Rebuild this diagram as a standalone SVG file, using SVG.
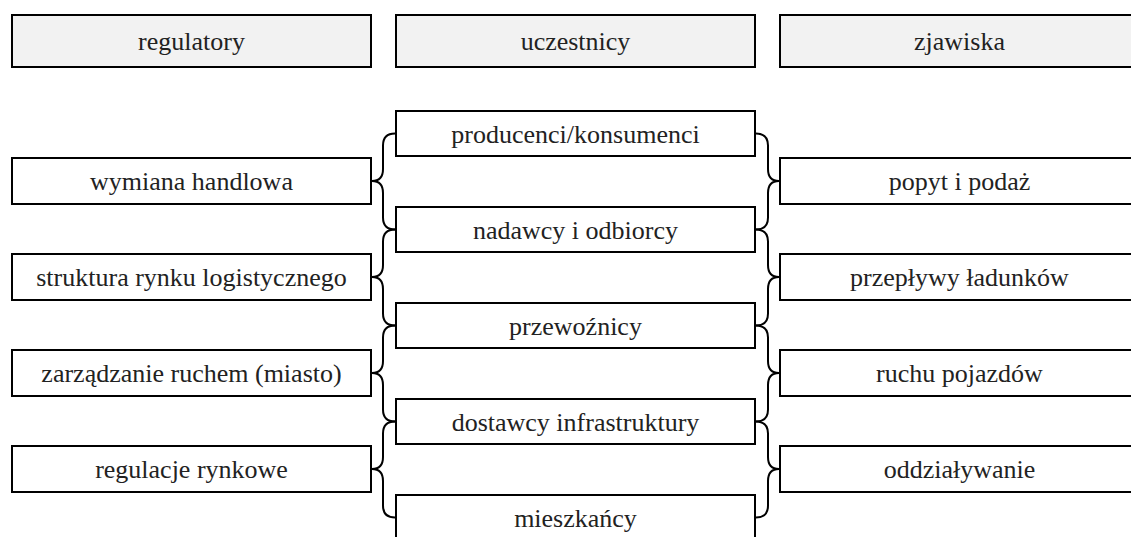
<svg xmlns="http://www.w3.org/2000/svg" width="1131" height="537" viewBox="0 0 1131 537">
<style>
.box{fill:#ffffff;stroke:#000;stroke-width:2}
.hdr{fill:#f2f2f2;stroke:#000;stroke-width:2}
.t{font-family:'Times New Roman','Liberation Serif','DejaVu Serif','Noto Serif',Times,serif;font-size:26px;fill:#222;text-anchor:middle}
.br{fill:none;stroke:#000;stroke-width:2}
</style>
<rect width="1131" height="537" fill="#fff"/>
<g id="hdr-regulatory"><rect class="hdr" x="12" y="15" width="359" height="52"/><text class="t" x="191.5" y="50">regulatory</text></g>
<g id="hdr-uczestnicy"><rect class="hdr" x="396" y="15" width="359" height="52"/><text class="t" x="575.5" y="50">uczestnicy</text></g>
<g id="hdr-zjawiska"><rect class="hdr" x="780" y="15" width="359" height="52"/><text class="t" x="959.5" y="50">zjawiska</text></g>

<g id="m1"><rect class="box" x="396" y="111" width="359" height="45"/><text class="t" x="575.5" y="143">producenci/konsumenci</text></g>
<g id="m2"><rect class="box" x="396" y="207" width="359" height="45"/><text class="t" x="575.5" y="239">nadawcy i odbiorcy</text></g>
<g id="m3"><rect class="box" x="396" y="303" width="359" height="45"/><text class="t" x="575.5" y="335">przewoźnicy</text></g>
<g id="m4"><rect class="box" x="396" y="399" width="359" height="45"/><text class="t" x="575.5" y="431">dostawcy infrastruktury</text></g>
<g id="m5"><rect class="box" x="396" y="495" width="359" height="45"/><text class="t" x="575.5" y="527">mieszkańcy</text></g>

<g id="l1"><rect class="box" x="12" y="158" width="359" height="46"/><text class="t" x="191.5" y="190">wymiana handlowa</text></g>
<g id="l2"><rect class="box" x="12" y="254" width="359" height="46"/><text class="t" x="191.5" y="286">struktura rynku logistycznego</text></g>
<g id="l3"><rect class="box" x="12" y="350" width="359" height="46"/><text class="t" x="191.5" y="382">zarządzanie ruchem (miasto)</text></g>
<g id="l4"><rect class="box" x="12" y="446" width="359" height="46"/><text class="t" x="191.5" y="478">regulacje rynkowe</text></g>

<g id="r1"><rect class="box" x="780" y="158" width="359" height="46"/><text class="t" x="959.5" y="190">popyt i podaż</text></g>
<g id="r2"><rect class="box" x="780" y="254" width="359" height="46"/><text class="t" x="959.5" y="286">przepływy ładunków</text></g>
<g id="r3"><rect class="box" x="780" y="350" width="359" height="46"/><text class="t" x="959.5" y="382">ruchu pojazdów</text></g>
<g id="r4"><rect class="box" x="780" y="446" width="359" height="46"/><text class="t" x="959.5" y="478">oddziaływanie</text></g>

<g id="connectors">
<defs>
<path id="lb" class="br" d="M395,133.5 Q383,133.5 383,145.5 L383,169 Q383,181 372,181 Q383,181 383,193 L383,217.5 Q383,229.5 395,229.5"/>
<path id="rb" class="br" d="M756,133.5 Q768,133.5 768,145.5 L768,169 Q768,181 779,181 Q768,181 768,193 L768,217.5 Q768,229.5 756,229.5"/>
</defs>
<use href="#lb"/>
<use href="#lb" transform="translate(0,96)"/>
<use href="#lb" transform="translate(0,192)"/>
<use href="#lb" transform="translate(0,288)"/>
<use href="#rb"/>
<use href="#rb" transform="translate(0,96)"/>
<use href="#rb" transform="translate(0,192)"/>
<use href="#rb" transform="translate(0,288)"/>
</g>
</svg>
